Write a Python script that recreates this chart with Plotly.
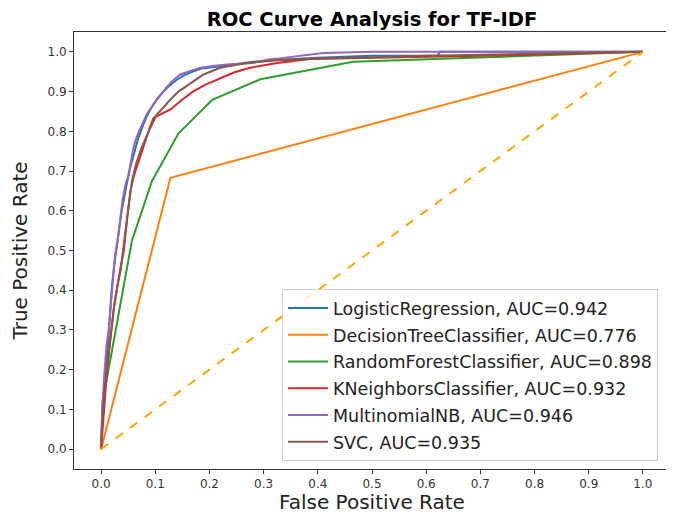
import plotly.graph_objects as go

lr_fpr = [0, 0.003, 0.008, 0.012, 0.016, 0.02, 0.024, 0.028, 0.033, 0.038, 0.045, 0.052, 0.06, 0.068, 0.076, 0.085, 0.095, 0.105, 0.115, 0.126, 0.138, 0.152, 0.168, 0.185, 0.21, 0.24, 0.28, 0.33, 0.4, 0.5, 0.62, 0.626, 0.8, 1.0]
lr_tpr = [0, 0.1, 0.17, 0.25, 0.33, 0.41, 0.46, 0.5, 0.54, 0.6, 0.65, 0.7, 0.74, 0.78, 0.81, 0.84, 0.865, 0.885, 0.9, 0.915, 0.928, 0.94, 0.95, 0.958, 0.962, 0.968, 0.975, 0.98, 0.985, 0.99, 0.99, 1.0, 1.0, 1.0]

dt_fpr = [0, 0.128, 1.0]
dt_tpr = [0, 0.683, 1.0]

rf_fpr = [0, 0.003, 0.057, 0.094, 0.143, 0.205, 0.294, 0.465, 1.0]
rf_tpr = [0, 0.12, 0.525, 0.675, 0.795, 0.879, 0.931, 0.975, 1.0]

knn_fpr = [0, 0.005, 0.01, 0.015, 0.02, 0.025, 0.035, 0.042, 0.048, 0.054, 0.061, 0.068, 0.075, 0.082, 0.09, 0.097, 0.11, 0.128, 0.15, 0.171, 0.192, 0.214, 0.245, 0.275, 0.325, 0.386, 0.5, 0.7, 1.0]
knn_tpr = [0, 0.1, 0.18, 0.25, 0.31, 0.37, 0.45, 0.5, 0.58, 0.65, 0.69, 0.72, 0.75, 0.776, 0.81, 0.834, 0.843, 0.855, 0.88, 0.901, 0.917, 0.93, 0.948, 0.96, 0.972, 0.982, 0.985, 0.99, 1.0]

mnb_fpr = [0, 0.002, 0.006, 0.01, 0.014, 0.018, 0.022, 0.026, 0.03, 0.035, 0.04, 0.045, 0.051, 0.057, 0.063, 0.07, 0.076, 0.085, 0.097, 0.106, 0.115, 0.13, 0.146, 0.165, 0.183, 0.21, 0.232, 0.28, 0.309, 0.325, 0.392, 0.41, 0.5, 1.0]
mnb_tpr = [0, 0.1, 0.19, 0.26, 0.3, 0.36, 0.42, 0.49, 0.52, 0.58, 0.63, 0.667, 0.69, 0.74, 0.776, 0.8, 0.818, 0.845, 0.868, 0.885, 0.901, 0.925, 0.943, 0.952, 0.96, 0.965, 0.968, 0.972, 0.981, 0.983, 0.993, 0.997, 1.0, 1.0]

svc_fpr = [0, 0.003, 0.008, 0.013, 0.018, 0.023, 0.03, 0.036, 0.042, 0.05, 0.057, 0.065, 0.075, 0.088, 0.103, 0.115, 0.128, 0.143, 0.159, 0.175, 0.189, 0.205, 0.22, 0.245, 0.269, 0.32, 0.4, 0.5, 0.6, 0.8, 1.0]
svc_tpr = [0, 0.09, 0.17, 0.23, 0.29, 0.35, 0.41, 0.45, 0.517, 0.6, 0.675, 0.72, 0.76, 0.8, 0.843, 0.86, 0.88, 0.9, 0.914, 0.93, 0.943, 0.952, 0.96, 0.966, 0.972, 0.978, 0.983, 0.986, 0.99, 0.995, 1.0]

names = ["LogisticRegression", "DecisionTreeClassifier", "RandomForestClassifier",
         "KNeighborsClassifier", "MultinomialNB", "SVC"]
aucs = [0.942, 0.776, 0.898, 0.932, 0.946, 0.935]
colors = ["#1f77b4", "#ff7f0e", "#2ca02c", "#d62728", "#9467bd", "#8c564b"]
series = [(lr_fpr, lr_tpr), (dt_fpr, dt_tpr), (rf_fpr, rf_tpr),
          (knn_fpr, knn_tpr), (mnb_fpr, mnb_tpr), (svc_fpr, svc_tpr)]

ticks = [0.0, 0.1, 0.2, 0.3, 0.4, 0.5, 0.6, 0.7, 0.8, 0.9, 1.0]
tick_text = [f"{t:.1f}" for t in ticks]

fig = go.Figure()
for i, ((fx, ty), name, auc, c) in enumerate(zip(series, names, aucs, colors)):
    fig.add_trace(go.Scatter(x=fx, y=ty, mode="lines", name=f"{name}, AUC={auc:.3f}",
                             legendgroup=f"g{i}", line=dict(color=c, width=2)))

fig.add_trace(go.Scatter(x=[0, 1], y=[0, 1], mode="lines", showlegend=False,
                         line=dict(color="#ffa500", width=2, dash="dash")))

font = "DejaVu Sans, sans-serif"
axis_common = dict(
    tickvals=ticks, ticktext=tick_text, range=[-0.05, 1.05], automargin=False,
    showgrid=False, zeroline=False, showline=True, mirror=True,
    linecolor="#333333", linewidth=1, ticks="outside", ticklen=4,
    tickcolor="#333333", tickfont=dict(family=font, size=12, color="#333333"),
)

# page body has an 8px margin, so the figure is sized/offset to compensate
fig.update_layout(
    width=666, height=506,
    margin=dict(l=66, r=4, t=24, b=45),
    paper_bgcolor="white", plot_bgcolor="white",
    title=dict(text="<b>ROC Curve Analysis for TF-IDF</b>", x=0.5465, xanchor="center",
               yref="container", y=1 - 11 / 506, yanchor="middle", automargin=False,
               font=dict(family=font, size=19.5, color="black")),
    xaxis=dict(title=dict(text="False Positive Rate", font=dict(family=font, size=20, color="#222"), standoff=2), **axis_common),
    yaxis=dict(title=dict(text="True Positive Rate", font=dict(family=font, size=20, color="#222"), standoff=20), **axis_common),
    legend=dict(x=0.349, y=0.018, xanchor="left", yanchor="bottom",
                bgcolor="rgba(255,255,255,0.8)", bordercolor="#cccccc", borderwidth=1,
                tracegroupgap=1,
                font=dict(family=font, size=17.5, color="#222"), itemwidth=40),
    showlegend=True,
)

fig.write_html("out.html")
